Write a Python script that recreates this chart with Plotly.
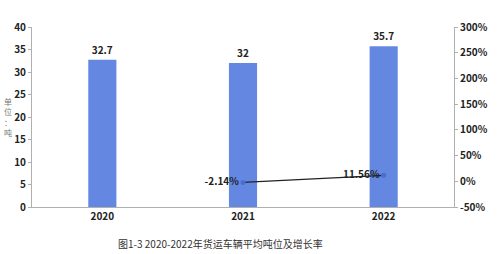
import plotly.graph_objects as go

years = ["2020", "2021", "2022"]
tonnage = [32.7, 32, 35.7]
tonnage_labels = ["32.7", "32", "35.7"]
growth_years = ["2021", "2022"]
growth = [-2.14, 11.56]
growth_labels = ["-2.14%", "11.56%"]
left_ticks = [0, 5, 10, 15, 20, 25, 30, 35, 40]
right_ticks = [-50, 0, 50, 100, 150, 200, 250, 300]
right_tick_text = [f"{v}%" for v in right_ticks]

font_family = "Noto Sans CJK SC, Noto Sans, sans-serif"

fig = go.Figure()
fig.add_trace(go.Bar(
    x=years, y=tonnage, text=tonnage_labels, textposition="outside",
    textfont=dict(size=10, color="#222", family=font_family, weight="bold"),
    marker=dict(color="#6488E2", line=dict(width=0)),
    width=0.2, cliponaxis=False, yaxis="y",
))
fig.add_trace(go.Scatter(
    x=growth_years, y=growth, mode="lines+markers+text",
    text=growth_labels, textposition="middle left",
    textfont=dict(size=10, color="#222", family=font_family, weight="bold"),
    line=dict(color="#222222", width=1.2),
    marker=dict(color="#4A6ED0", size=5),
    yaxis="y2",
))

axis_line = "#B0B0B0"
fig.update_layout(
    width=500, height=254,
    margin=dict(l=32, r=39, t=27, b=47),
    paper_bgcolor="white", plot_bgcolor="white",
    showlegend=False,
    font=dict(family=font_family, size=10, color="#222"),
    xaxis=dict(type="category", showline=True, linecolor=axis_line, linewidth=1,
               showgrid=False, ticks="", tickfont=dict(size=10, weight="bold")),
    yaxis=dict(range=[0, 40], tickvals=left_ticks, showline=True, linecolor=axis_line,
               showgrid=False, zeroline=False, ticks="outside", ticklen=3,
               tickcolor=axis_line, tickfont=dict(size=10, weight="bold")),
    yaxis2=dict(range=[-50, 300], tickvals=right_ticks, ticktext=right_tick_text,
                overlaying="y", side="right", showline=True, linecolor=axis_line,
                showgrid=False, zeroline=False, ticks="outside", ticklen=3,
                tickcolor=axis_line, tickfont=dict(size=10, weight="bold")),
    annotations=[
        dict(text="单<br>位<br>：<br>吨", xref="paper", yref="paper", x=-0.058, y=0.5,
             xanchor="center", yanchor="middle", showarrow=False,
             font=dict(size=8, color="#777")),
        dict(text="图1-3 2020-2022年货运车辆平均吨位及增长率", xref="paper", yref="paper",
             x=0.447, y=-0.205, xanchor="center", yanchor="middle", showarrow=False,
             font=dict(size=10, color="#333")),
    ],
)

fig.write_html("out.html")
